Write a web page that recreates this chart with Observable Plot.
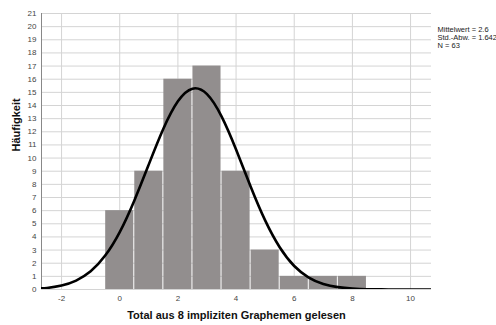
<!DOCTYPE html>
<html>
<head>
<meta charset="utf-8">
<script src="https://cdn.jsdelivr.net/npm/d3@7"></script>
<script src="https://cdn.jsdelivr.net/npm/@observablehq/plot@0.6"></script>
<style>
  html, body { margin: 0; padding: 0; background: #fff; }
  svg { display: block; font-family: "Liberation Sans", Arial, sans-serif; }
</style>
</head>
<body>
<div id="chart"></div>
<script>
// Histogram data
const scores = [0, 1, 2, 3, 4, 5, 6, 7, 8];
const counts = [6, 9, 16, 17, 9, 3, 1, 1, 1];

const curveX = [-3, -2.5, -2, -1.5, -1, -0.5, 0, 0.5, 1, 1.5, 2, 2.5, 3, 3.5, 4, 4.5, 5, 5.5, 6, 6.5, 7, 7.5, 8, 8.5, 9, 9.5, 10, 10.5, 11];
const curveY = [0.05, 0.12, 0.30, 0.68, 1.38, 2.58, 4.37, 6.76, 9.52, 12.23, 14.32, 15.28, 14.86, 13.17, 10.65, 7.84, 5.26, 3.22, 1.79, 0.91, 0.42, 0.18, 0.07, 0.02, 0.01, 0, 0, 0, 0];

// Axis ticks
const xTicks = [-2, 0, 2, 4, 6, 8, 10];
const yTicks = d3.range(0, 22);
const xDomain = [-2.69, 10.72];
const yDomain = [0, 21];

const stats = ["Mittelwert = 2.6", "Std.-Abw. = 1.642", "N = 63"];

const bars = scores.map((s, i) => ({x1: s - 0.5, x2: s + 0.5, y: counts[i]}));
const curve = curveX.map((x, i) => ({x, y: curveY[i]}));

const chart = Plot.plot({
  width: 496,
  height: 325,
  marginLeft: 41,
  marginRight: 65,
  marginTop: 13,
  marginBottom: 36,
  style: {fontFamily: '"Liberation Sans", Arial, sans-serif', fontSize: "8px", color: "#333"},
  x: {domain: xDomain, ticks: xTicks, label: null},
  y: {domain: yDomain, ticks: yTicks, label: null},
  marks: [
    Plot.gridY(yTicks, {stroke: "#d4d4d4", strokeOpacity: 1}),
    Plot.gridX(xTicks, {stroke: "#d4d4d4", strokeOpacity: 1}),
    Plot.rectY(bars, {x1: "x1", x2: "x2", y: "y", fill: "#928e8e", insetLeft: 0.5, insetRight: 0.5}),
    Plot.ruleX([xDomain[0]], {stroke: "#888"}),
    Plot.line(curve, {x: "x", y: "y", stroke: "#000", strokeWidth: 2.6, curve: "natural", clip: true}),
    Plot.axisY(yTicks, {tickSize: 0, tickPadding: 5, fill: "#444", fontSize: 8, label: null, tickFormat: d => String(d)}),
    Plot.axisX(xTicks, {tickSize: 0, tickPadding: 6, fill: "#444", fontSize: 8, label: null, tickFormat: d => String(d)}),
    Plot.text(["Häufigkeit"], {frameAnchor: "left", dx: -25, rotate: -90, fontSize: 11, fontWeight: "bold", fill: "#111"}),
    Plot.text(["Total aus 8 impliziten Graphemen gelesen"], {frameAnchor: "bottom", dy: 29, fontSize: 11, fontWeight: "bold", fill: "#111"}),
    Plot.text([stats.join("\n")], {frameAnchor: "top-right", dx: 6, dy: 13, textAnchor: "start", lineAnchor: "top", lineHeight: 1.05, fontSize: 7.5, fill: "#222"})
  ]
});
document.getElementById("chart").appendChild(chart);
</script>
</body>
</html>
